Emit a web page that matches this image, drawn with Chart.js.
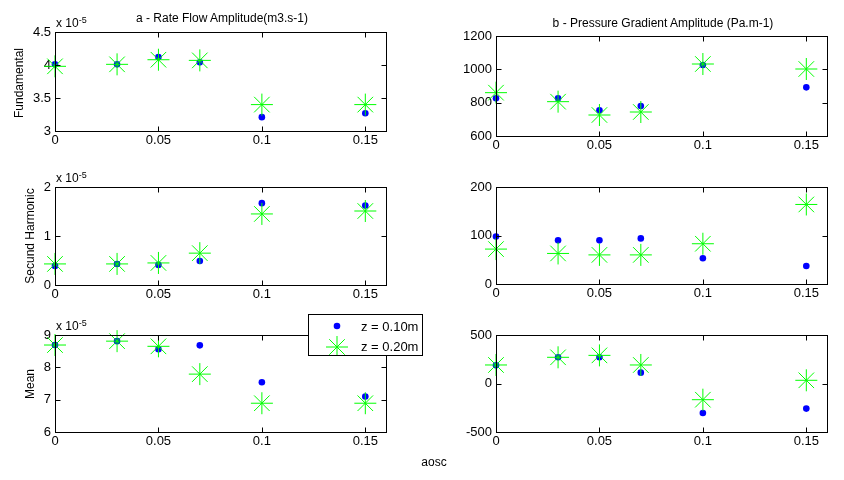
<!DOCTYPE html>
<html>
<head>
<meta charset="utf-8">
<script src="https://cdn.jsdelivr.net/npm/chart.js@4.4.1/dist/chart.umd.min.js"></script>
<style>
  body { margin: 0; background: #fff; width: 844px; height: 480px; overflow: hidden; position: relative;
         font-family: "Liberation Sans", Arial, Helvetica, sans-serif; color: #000; }
  .panel { position: absolute; }
  .txt { position: absolute; font-size: 12px; line-height: 12px; white-space: nowrap; }
  .rot { transform: translate(-50%, -50%) rotate(-90deg); }
  .exp sup { font-size: 9px; position: relative; top: -3px; vertical-align: top; }
  #legend { position: absolute; left: 308px; top: 314px; width: 115px; height: 42px; background: #fff;
            border: 1px solid #000; box-sizing: border-box; font-size: 13px; }
  #legend canvas { position: absolute; left: 0; top: 0; }
  #legend span { position: absolute; left: 52px; line-height: 13px; }
</style>
</head>
<body>
<script>
// abscisse commune : amplitude d'oscillation
const aosc = [0, 0.03, 0.05, 0.07, 0.1, 0.15];
const xTicks = [0, 0.05, 0.1, 0.15];

// débit (x 1e-5 m3.s-1)
const fundQ_z10 = [4.01, 4.01, 4.12, 4.04, 3.21, 3.27];
const fundQ_z20 = [3.98, 4.01, 4.08, 4.07, 3.40, 3.40];
const harmQ_z10 = [0.39, 0.43, 0.41, 0.49, 1.67, 1.62];
const harmQ_z20 = [0.43, 0.43, 0.45, 0.65, 1.45, 1.51];
const meanQ_z10 = [8.69, 8.81, 8.56, 8.68, 7.54, 7.10];
const meanQ_z20 = [8.69, 8.81, 8.65, 7.79, 6.89, 6.89];

// gradient de pression (Pa.m-1)
const fundP_z10 = [826, 826, 754, 780, 1026, 892];
const fundP_z20 = [860, 806, 726, 744, 1032, 1002];
const harmP_z10 = [98, 90, 90, 94, 53, 37];
const harmP_z20 = [72, 63, 60, 60, 83, 164];
const meanP_z10 = [187, 270, 270, 112, -304, -259];
const meanP_z20 = [191, 270, 290, 191, -167, 33];

// graduations des axes y
const fundQ_ticks = [3, 3.5, 4, 4.5];
const fundP_ticks = [600, 800, 1000, 1200];
const harmQ_ticks = [0, 1, 2];
const harmP_ticks = [0, 100, 200];
const meanQ_ticks = [6, 7, 8, 9];
const meanP_ticks = [-500, 0, 500];

const BLUE = '#0000ff';
const GREEN = '#00ff00';
const FONT = '"Liberation Sans", Arial, Helvetica, sans-serif';
const M = { l: 50, t: 12, r: 8, b: 24 };   // marges du canvas autour de la zone de tracé

// cadre + graduations vers l'intérieur, façon Matlab
const boxPlugin = {
  id: 'matlabBox',
  afterDraw(chart) {
    const { ctx, chartArea: a, scales } = chart;
    const L = Math.round(a.left) + 0.5, R = Math.round(a.right) + 0.5;
    const T = Math.round(a.top) + 0.5, B = Math.round(a.bottom) + 0.5;
    const tl = 5;
    ctx.save();
    ctx.strokeStyle = '#000';
    ctx.lineWidth = 1;
    ctx.strokeRect(L, T, R - L, B - T);
    ctx.beginPath();
    scales.x.ticks.forEach(t => {
      const px = Math.round(scales.x.getPixelForValue(t.value)) + 0.5;
      ctx.moveTo(px, B); ctx.lineTo(px, B - tl);
      ctx.moveTo(px, T); ctx.lineTo(px, T + tl);
    });
    scales.y.ticks.forEach(t => {
      const py = Math.round(scales.y.getPixelForValue(t.value)) + 0.5;
      ctx.moveTo(L, py); ctx.lineTo(L + tl, py);
      ctx.moveTo(R, py); ctx.lineTo(R - tl, py);
    });
    ctx.stroke();
    ctx.restore();
  }
};

function addText(html, x, y, cls, extra) {
  const d = document.createElement('div');
  d.className = 'txt ' + (cls || '');
  d.innerHTML = html;
  d.style.left = x + 'px';
  d.style.top = y + 'px';
  if (extra) Object.assign(d.style, extra);
  document.body.appendChild(d);
  return d;
}

function makePanel(rect, yTicks, blue, green) {
  const [px, py, pw, ph] = rect;
  const w = pw + M.l + M.r, h = ph + M.t + M.b;
  const div = document.createElement('div');
  div.className = 'panel';
  div.style.left = (px - M.l) + 'px';
  div.style.top = (py - M.t) + 'px';
  const cv = document.createElement('canvas');
  cv.width = w; cv.height = h;
  cv.style.width = w + 'px'; cv.style.height = h + 'px';
  div.appendChild(cv);
  document.body.appendChild(div);

  const tickFont = { family: FONT, size: 13 };
  new Chart(cv, {
    type: 'scatter',
    data: {
      datasets: [
        { label: 'z = 0.20m', data: aosc.map((x, i) => ({ x, y: green[i] })), pointStyle: 'star',
          pointRadius: 11, borderColor: GREEN, backgroundColor: GREEN, borderWidth: 1, order: 0, clip: false },
        { label: 'z = 0.10m', data: aosc.map((x, i) => ({ x, y: blue[i] })), pointStyle: 'circle',
          pointRadius: 3.3, borderColor: BLUE, backgroundColor: BLUE, borderWidth: 0, order: 1, clip: false }
      ]
    },
    options: {
      responsive: false, animation: false, events: [],
      layout: { padding: { top: M.t, right: M.r, left: 0, bottom: 0 } },
      plugins: { legend: { display: false }, tooltip: { enabled: false } },
      scales: {
        x: {
          type: 'linear', min: 0, max: 0.16,
          afterBuildTicks: s => { s.ticks = xTicks.map(v => ({ value: v })); },
          afterFit: s => { s.height = M.b; },
          grid: { display: false, drawTicks: false }, border: { display: false },
          ticks: { font: tickFont, color: '#000', padding: 2, maxRotation: 0, callback: v => String(v) }
        },
        y: {
          type: 'linear', min: yTicks[0], max: yTicks[yTicks.length - 1],
          afterBuildTicks: s => { s.ticks = yTicks.map(v => ({ value: v })); },
          afterFit: s => { s.width = M.l; },
          grid: { display: false, drawTicks: false }, border: { display: false },
          ticks: { font: tickFont, color: '#000', padding: 4, callback: v => String(v) }
        }
      }
    },
    plugins: [boxPlugin]
  });
}

const LEFT = 55, RIGHT = 496, PW = 335;
makePanel([LEFT, 32, PW, 99], fundQ_ticks, fundQ_z10, fundQ_z20);
makePanel([RIGHT, 36, PW, 100], fundP_ticks, fundP_z10, fundP_z20);
makePanel([LEFT, 187, PW, 98], harmQ_ticks, harmQ_z10, harmQ_z20);
makePanel([RIGHT, 187, PW, 97], harmP_ticks, harmP_z10, harmP_z20);
makePanel([LEFT, 335, PW, 97], meanQ_ticks, meanQ_z10, meanQ_z20);
makePanel([RIGHT, 335, PW, 97], meanP_ticks, meanP_z10, meanP_z20);

// titres, étiquettes
addText('a - Rate Flow Amplitude(m3.s-1)', 222, 12, '', { transform: 'translateX(-50%)' });
addText('b - Pressure Gradient Amplitude (Pa.m-1)', 663, 17, '', { transform: 'translateX(-50%)' });
addText('Fundamental', 19, 83, 'rot');
addText('Secund Harmonic', 30, 236, 'rot');
addText('Mean', 30, 384, 'rot');
addText('aosc', 434, 456, '', { transform: 'translateX(-50%)' });
[32, 187, 335].forEach(top => addText('x 10<sup>-5</sup>', 56, top - 15, 'exp'));

// légende
const leg = document.createElement('div');
leg.id = 'legend';
const lc = document.createElement('canvas');
lc.width = 113; lc.height = 40;
leg.appendChild(lc);
[['z = 0.10m', 5], ['z = 0.20m', 25]].forEach(([t, y]) => {
  const s = document.createElement('span');
  s.textContent = t; s.style.top = y + 'px';
  leg.appendChild(s);
});
document.body.appendChild(leg);
const g = lc.getContext('2d');
g.fillStyle = BLUE;
g.beginPath(); g.arc(28, 11, 3.3, 0, Math.PI * 2); g.fill();
g.strokeStyle = GREEN; g.lineWidth = 1;
g.beginPath();
const cx = 28, cy = 32, r = 11, d = r * Math.SQRT1_2;
g.moveTo(cx - r, cy); g.lineTo(cx + r, cy);
g.moveTo(cx, cy - r); g.lineTo(cx, cy + r);
g.moveTo(cx - d, cy - d); g.lineTo(cx + d, cy + d);
g.moveTo(cx - d, cy + d); g.lineTo(cx + d, cy - d);
g.stroke();
</script>
</body>
</html>
